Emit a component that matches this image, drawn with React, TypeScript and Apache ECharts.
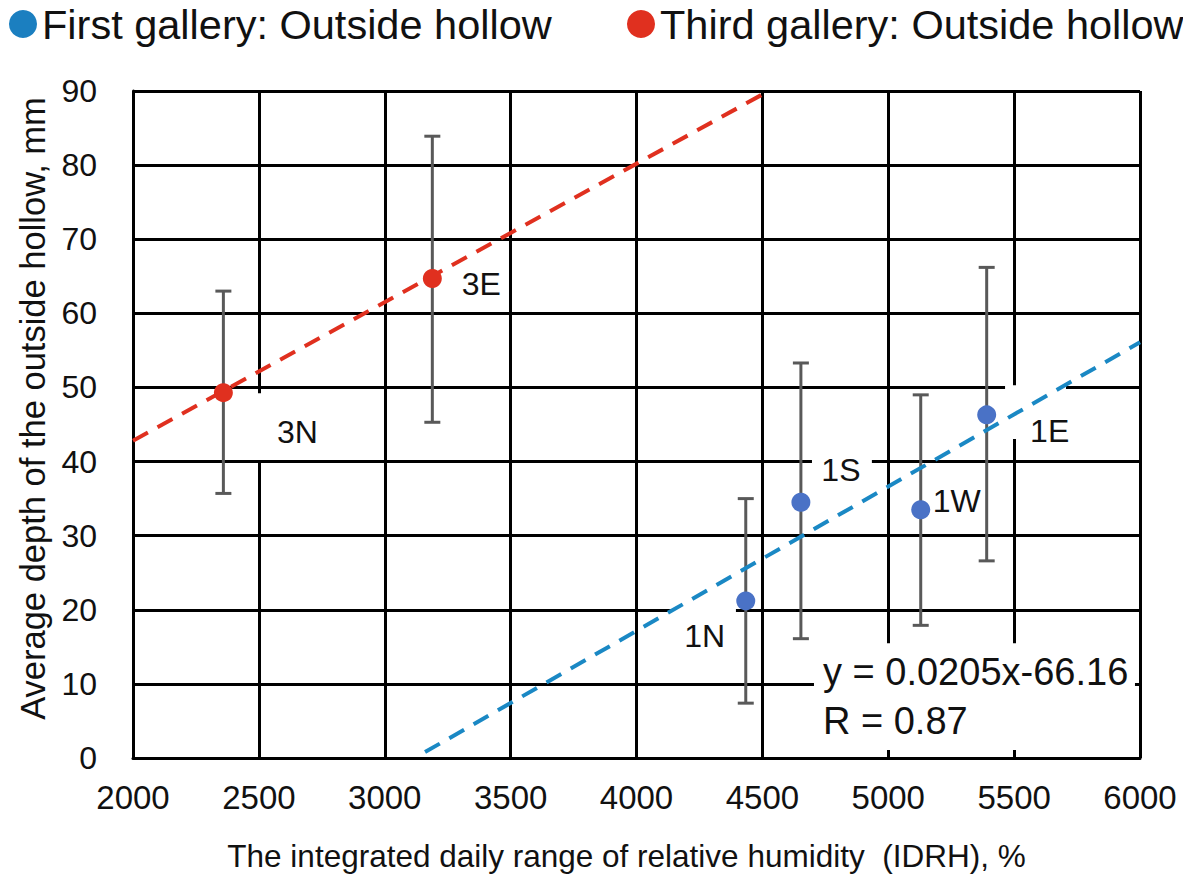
import React, { useEffect, useRef } from 'react';
import * as echarts from 'echarts';

// ---- data ----
const firstNames = ['1N', '1S', '1W', '1E'];
const firstX = [4434, 4653, 5129, 5391];
const firstY = [21.2, 34.5, 33.5, 46.3];
const firstLow = [7.4, 16.1, 17.9, 26.6];
const firstHigh = [35.0, 53.3, 49.0, 66.2];

const thirdNames = ['3N', '3E'];
const thirdX = [2359, 3189];
const thirdY = [49.3, 64.7];
const thirdLow = [35.7, 45.3];
const thirdHigh = [63.0, 83.9];

// trend lines (end points)
const firstTrend = [[3160, 0.8], [6000, 56.1]];
const thirdTrend = [[2000, 42.8], [4525, 90]];

const equationLines = ['y = 0.0205x-66.16', 'R = 0.87'];

const seriesFirst = 'First gallery: Outside hollow';
const seriesThird = 'Third gallery: Outside hollow';

const xMin = 2000, xMax = 6000, xStep = 500;
const yMin = 0, yMax = 90, yStep = 10;

// ---- annotation layout (white boxes behind labels, in data space) ----
const labelBoxes = [
  [2465, 40.2, 2838, 49.2, ''],
  [4697, 36.3, 4935, 41.4, ''],
  [5464, 43.05, 5706, 50.3, ''],
  [4145, 12.1, 4395, 20.45, ''],
  [4705, 1.08, 5980, 15.47, 'eq'],
];
const firstLabelOffsets = [[-41, 35], [40, -32], [36, -9], [63, 16]];
const thirdLabelOffsets = [[74, 39], [49, 5]];

const FONT = '"Liberation Sans", Arial, Helvetica, sans-serif';
const BLUE_LEGEND = '#1b7fc0';
const BLUE_POINT = '#4a72c6';
const BLUE_LINE = '#1a88c4';
const RED = '#e0301f';
const BAR = '#595959';

export default function App() {
  const ref = useRef<HTMLDivElement>(null);
  useEffect(() => {
    if (!ref.current) return;
    const chart = echarts.init(ref.current, null, { renderer: 'svg' });

    const errRender = (params: any, api: any) => {
      const x = api.value(0), lo = api.value(1), hi = api.value(2);
      const t = api.coord([x, hi]);
      const b = api.coord([x, lo]);
      const cap = 8;
      const style = { stroke: BAR, lineWidth: 3 };
      return {
        type: 'group',
        children: [
          { type: 'line', shape: { x1: t[0], y1: t[1], x2: b[0], y2: b[1] }, style },
          { type: 'line', shape: { x1: t[0] - cap, y1: t[1], x2: t[0] + cap, y2: t[1] }, style },
          { type: 'line', shape: { x1: b[0] - cap, y1: b[1], x2: b[0] + cap, y2: b[1] }, style },
        ],
      };
    };

    const boxRender = (params: any, api: any) => {
      const p1 = api.coord([api.value(0), api.value(3)]);
      const p2 = api.coord([api.value(2), api.value(1)]);
      const kind = labelBoxes[params.dataIndex][4];
      const children: any[] = [
        {
          type: 'rect',
          shape: { x: p1[0], y: p1[1], width: p2[0] - p1[0], height: p2[1] - p1[1] },
          style: { fill: '#ffffff' },
        },
      ];
      if (kind === 'eq') {
        children.push({
          type: 'text',
          x: p1[0] + 9,
          y: p1[1] + 4,
          style: {
            text: equationLines.join('\n'),
            fill: '#111',
            font: `38px ${FONT}`,
            lineHeight: 49,
            verticalAlign: 'top',
            align: 'left',
          },
        });
      }
      return { type: 'group', children };
    };

    const labelStyle = {
      show: true,
      position: 'inside',
      formatter: '{b}',
      color: '#111',
      fontSize: 32,
      fontFamily: FONT,
    };

    const legendBase = {
      top: -2,
      icon: 'circle',
      itemWidth: 28,
      itemHeight: 28,
      itemGap: 0,
      selectedMode: false,
      textStyle: { fontSize: 41.5, color: '#111', fontFamily: FONT },
    };

    chart.setOption({
      animation: false,
      backgroundColor: '#ffffff',
      textStyle: { fontFamily: FONT },
      legend: [
        { ...legendBase, left: 4, data: [{ name: seriesFirst, itemStyle: { color: BLUE_LEGEND } }] },
        { ...legendBase, left: 622, data: [{ name: seriesThird, itemStyle: { color: RED } }] },
      ],
      grid: { left: 133, right: 43, top: 91, bottom: 117, containLabel: false },
      xAxis: {
        type: 'value',
        min: xMin,
        max: xMax,
        interval: xStep,
        name: 'The integrated daily range of relative humidity  (IDRH), %',
        nameLocation: 'middle',
        nameGap: 82,
        nameTextStyle: { fontSize: 31.5, color: '#111', fontFamily: FONT, padding: [0, 20, 0, 0] },
        axisLine: { show: true, lineStyle: { color: '#000', width: 3 } },
        axisTick: { show: false },
        axisLabel: {
          fontSize: 33,
          color: '#111',
          margin: 23,
          fontFamily: FONT,
          formatter: (v: number) => String(v),
        },
        splitLine: { show: true, lineStyle: { color: '#000', width: 3 } },
      },
      yAxis: {
        type: 'value',
        min: yMin,
        max: yMax,
        interval: yStep,
        name: 'Average depth of the outside hollow, mm',
        nameLocation: 'middle',
        nameGap: 76,
        nameTextStyle: { fontSize: 34.5, color: '#111', fontFamily: FONT, padding: [0, 0, 0, 32] },
        axisLine: { show: true, lineStyle: { color: '#000', width: 3 } },
        axisTick: { show: false },
        axisLabel: { fontSize: 32, color: '#111', margin: 36, fontFamily: FONT },
        splitLine: { show: true, lineStyle: { color: '#000', width: 3 } },
      },
      series: [
        {
          type: 'custom',
          name: 'boxes',
          z: 1,
          silent: true,
          renderItem: boxRender,
          encode: { x: [0, 2], y: [1, 3] },
          data: labelBoxes.map((b) => [b[0], b[1], b[2], b[3]]),
        },
        {
          type: 'custom',
          name: 'errFirst',
          z: 2,
          renderItem: errRender,
          encode: { x: 0, y: [1, 2] },
          data: firstX.map((x, i) => [x, firstLow[i], firstHigh[i]]),
        },
        {
          type: 'custom',
          name: 'errThird',
          z: 2,
          renderItem: errRender,
          encode: { x: 0, y: [1, 2] },
          data: thirdX.map((x, i) => [x, thirdLow[i], thirdHigh[i]]),
        },
        {
          type: 'line',
          name: 'trendFirst',
          z: 3,
          symbol: 'none',
          data: firstTrend,
          lineStyle: { color: BLUE_LINE, width: 4, type: [17, 11] },
        },
        {
          type: 'line',
          name: 'trendThird',
          z: 3,
          symbol: 'none',
          data: thirdTrend,
          lineStyle: { color: RED, width: 4, type: [17, 11] },
        },
        {
          type: 'scatter',
          name: seriesFirst,
          z: 4,
          symbol: 'circle',
          symbolSize: 19,
          itemStyle: { color: BLUE_POINT, opacity: 1 },
          label: labelStyle,
          data: firstX.map((x, i) => ({
            name: firstNames[i],
            value: [x, firstY[i]],
            label: { offset: firstLabelOffsets[i] },
          })),
        },
        {
          type: 'scatter',
          name: seriesThird,
          z: 4,
          symbol: 'circle',
          symbolSize: 19,
          itemStyle: { color: RED, opacity: 1 },
          label: labelStyle,
          data: thirdX.map((x, i) => ({
            name: thirdNames[i],
            value: [x, thirdY[i]],
            label: { offset: thirdLabelOffsets[i] },
          })),
        },
      ],
    });
    return () => chart.dispose();
  }, []);
  return (
    <div
      ref={ref}
      style={{ position: 'fixed', left: 0, top: 0, width: 1183, height: 877, background: '#fff' }}
    />
  );
}
